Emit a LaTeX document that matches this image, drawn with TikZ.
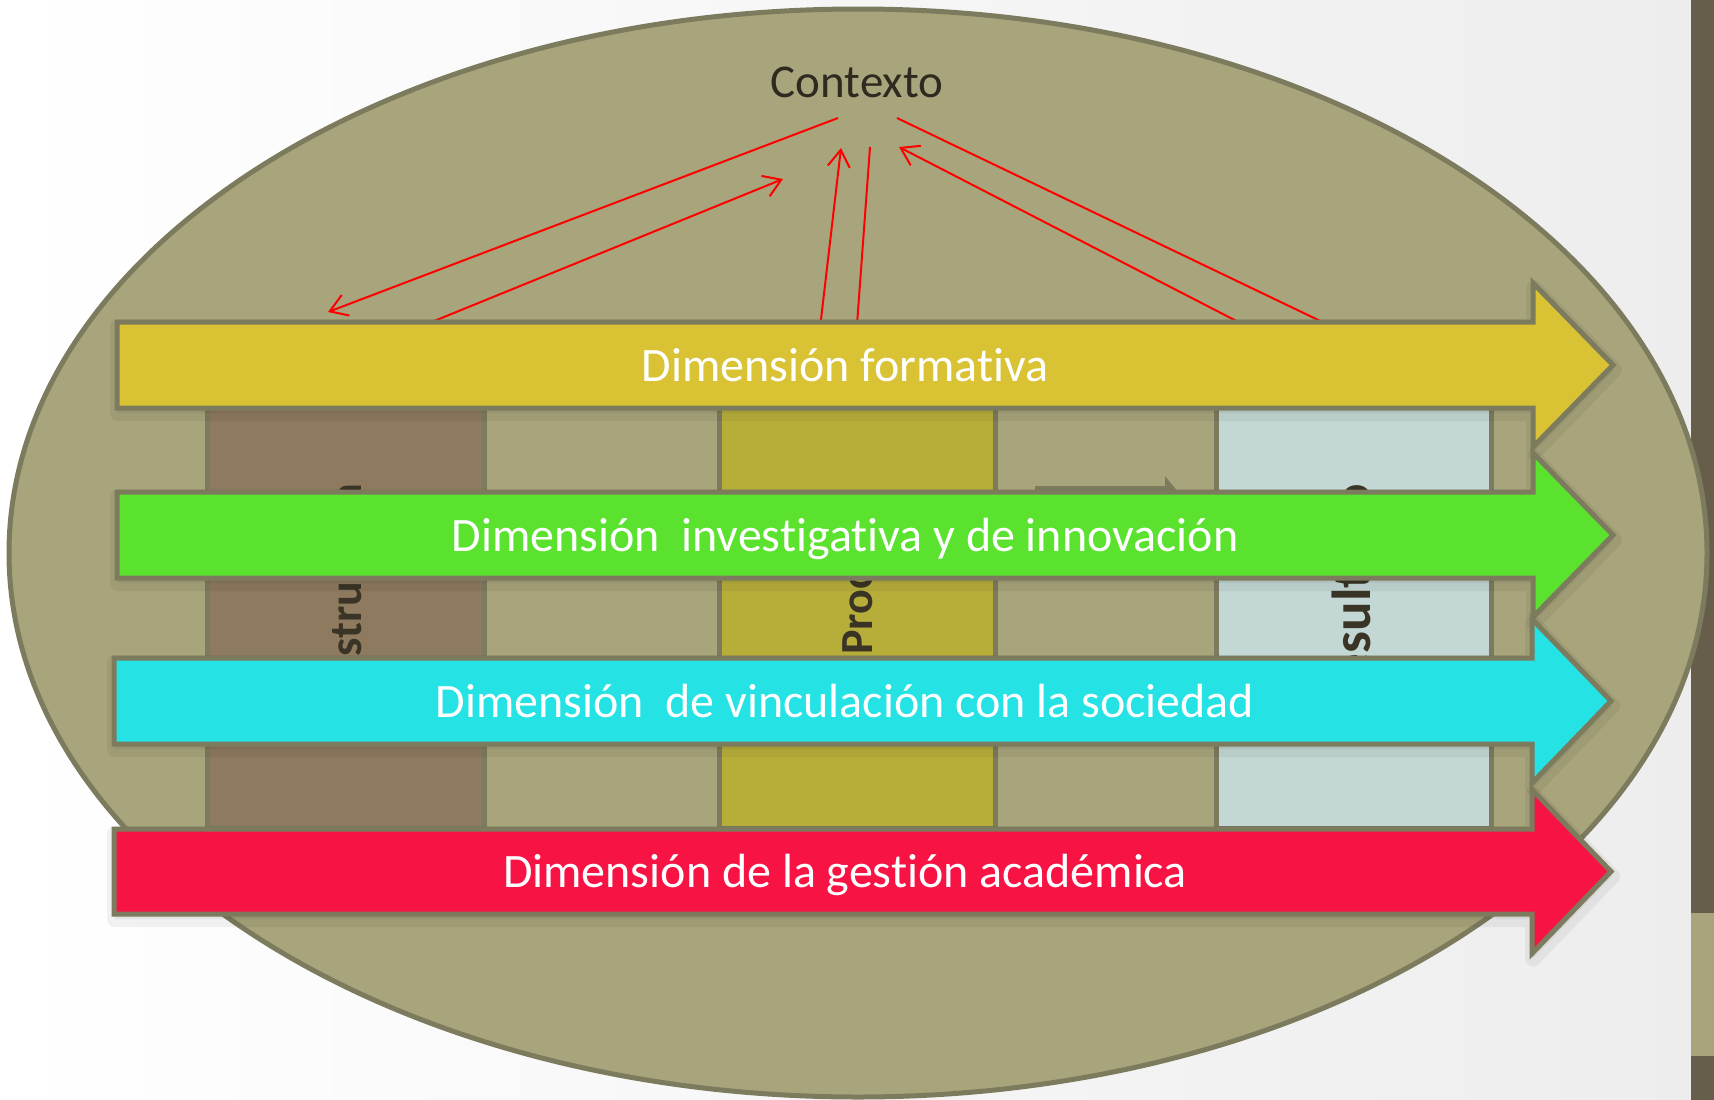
\documentclass[tikz,border=0pt]{standalone}
\usepackage{fontspec}
\setmainfont{Carlito}[Ligatures=NoCommon]
\usetikzlibrary{arrows.meta}
\definecolor{bgE}{HTML}{A8A57C}
\definecolor{edgeC}{HTML}{7D7B5E}
\definecolor{barC}{HTML}{665E4A}
\definecolor{barL}{HTML}{A8A47C}
\definecolor{yelC}{HTML}{D9C334}
\definecolor{grnC}{HTML}{5AE22F}
\definecolor{cyaC}{HTML}{25E2E4}
\definecolor{redC}{HTML}{F71445}
\definecolor{brC}{HTML}{8E7A5E}
\definecolor{olC}{HTML}{B7AE3A}
\definecolor{reC}{HTML}{C3D7D4}
\definecolor{txtC}{HTML}{2E2A20}
\definecolor{colT}{HTML}{3A3426}
\newcommand\DimArrow[8]{%
  \pgfmathsetmacro\dmid{(#3+#4)/2}%
  \pgfmathsetmacro\dht{\dmid-82}%
  \pgfmathsetmacro\dhb{\dmid+82}%
  \path[arrowshadow] (#2,#3) -- (#5,#3) -- (#5,\dht) -- (#6,\dmid) -- (#5,\dhb) -- (#5,#4) -- (#2,#4) -- cycle;
  \path[dimbox, fill=#7] (#2,#3) -- (#5,#3) -- (#5,\dht) -- (#6,\dmid) -- (#5,\dhb) -- (#5,#4) -- (#2,#4) -- cycle;
  \node[dimtext] (#1) at ({845},{\dmid+16}) {#8};
}
\begin{document}
\begin{tikzpicture}[x=1pt,y=-1pt,
  colbox/.style={draw=edgeC, line width=5pt},
  coltext/.style={rotate=90, inner sep=0pt, text=colT},
  dimbox/.style={draw=edgeC, line width=5pt, line join=miter},
  arrowshadow/.style={draw=black, fill=black, opacity=0.05, line width=16pt, line join=round, shift={(1,5)}},
  dimtext/.style={anchor=base, inner sep=0pt, text=white, font=\fontsize{48}{58}\selectfont},
  conn/.style={draw=red, line width=2pt},
  tip/.style={-{Straight Barb[length=17pt,width=22pt]}}
]
\useasboundingbox (0,0) rectangle (1714,1100);
% slide background
\shade[left color=white, right color=black!7] (0,0) rectangle (1691,1100);
\fill[barC] (1691,0) rectangle (1714,1100);
\fill[barL] (1691,913) rectangle (1714,1056);
% ellipse
\draw[edgeC, line width=5pt, fill=bgE] (858,553) ellipse [x radius=849pt, y radius=544pt];
% columns
\draw[colbox, fill=brC] (207,330) rectangle (484,828);
\draw[colbox, fill=olC] (719,330) rectangle (995,828);
\draw[colbox, fill=reC] (1216,330) rectangle (1491,828);
% small process arrow (mostly hidden)
\fill[edgeC] (1035,486) -- (1165,486) -- (1165,476) -- (1205,525) -- (1165,574) -- (1165,564) -- (1035,564) -- cycle;
% column labels
\node[coltext, font=\bfseries\fontsize{46}{55}\selectfont] (estr) at (347,581) {Estructura};
\node[coltext, font=\bfseries\fontsize{46}{55}\selectfont] (proc) at (858,579.5) {Proceso};
\node[coltext, font=\bfseries\fontsize{55}{66}\selectfont] (resu) at (1351,597.5) {Resultado};
% context label
\node[anchor=base, inner sep=0pt, text=txtC, font=\fontsize{47}{56}\selectfont] (ctx) at (857,97) {Contexto};
% connector end points
\coordinate (ctxA) at (838,118);
\coordinate (estA) at (328,312);
\coordinate (estB) at (417,328);
\coordinate (ctxB) at (783,179);
\coordinate (proC) at (820,328);
\coordinate (ctxC) at (841,148);
\coordinate (ctxD) at (870,147);
\coordinate (proD) at (855,352);
\coordinate (ctxE) at (897,118);
\coordinate (resE) at (1362,341);
\coordinate (resF) at (1250,328);
\coordinate (ctxF) at (899,147);
\draw[conn, tip] (ctxA) -- (estA);
\draw[conn, tip] (estB) -- (ctxB);
\draw[conn, tip] (proC) -- (ctxC);
\draw[conn, tip] (ctxD) -- (proD);
\draw[conn, tip] (ctxE) -- (resE);
\draw[conn, tip] (resF) -- (ctxF);
% dimension arrows
\DimArrow{dimFor}{117}{322}{408}{1533}{1613}{yelC}{Dimensión formativa}
\DimArrow{dimInv}{117}{492}{578}{1533}{1613}{grnC}{Dimensión~ investigativa y de innovación}
\DimArrow{dimVin}{114}{658}{744}{1532}{1611}{cyaC}{Dimensión~ de vinculación con la sociedad}
\DimArrow{dimGes}{114}{829}{914}{1532}{1611}{redC}{Dimensión de la gestión académica}
\end{tikzpicture}
\end{document}
